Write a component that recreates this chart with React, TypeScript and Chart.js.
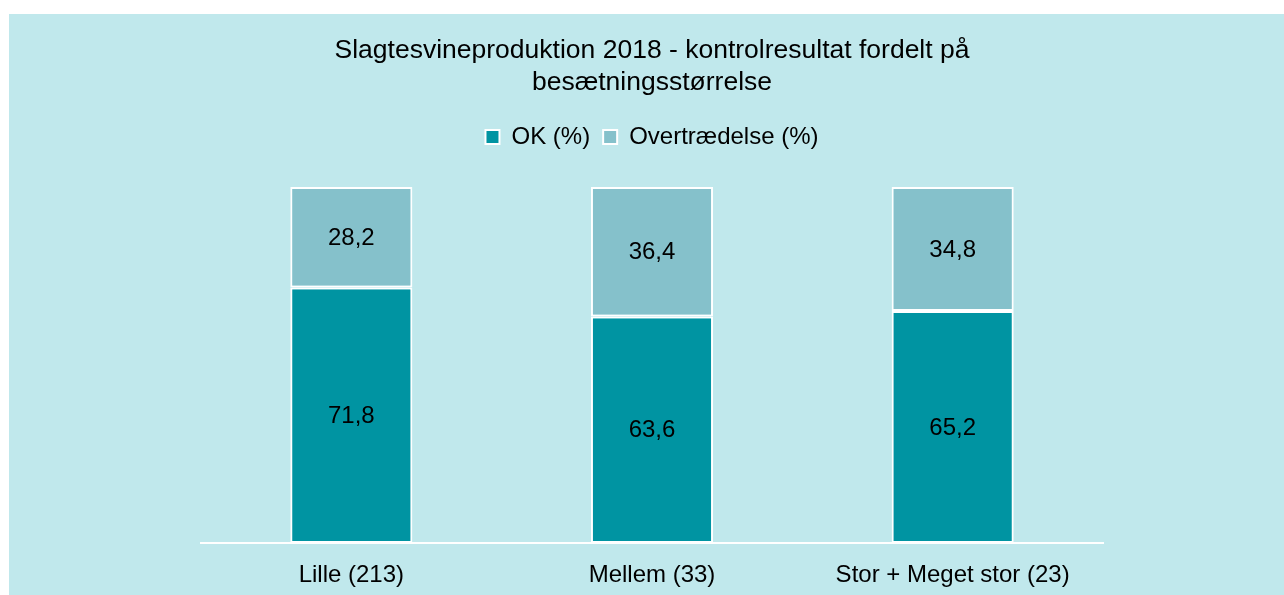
import React, { useEffect, useRef } from "react";
import { Chart, registerables } from "chart.js";

Chart.register(...registerables);

const categories = ["Lille (213)", "Mellem (33)", "Stor + Meget stor (23)"];
const okValues = [71.8, 63.6, 65.2];
const overValues = [28.2, 36.4, 34.8];
const seriesNames = ["OK (%)", "Overtrædelse (%)"];
const titleLines = ["Slagtesvineproduktion 2018 - kontrolresultat fordelt på", "besætningsstørrelse"];

const FONT = "'Liberation Sans', Arial, sans-serif";
const BG = "#C0E8EC";

const valueLabels = {
  id: "valueLabels",
  afterDatasetsDraw(chart: any) {
    const ctx = chart.ctx;
    ctx.save();
    ctx.font = `24px ${FONT}`;
    ctx.fillStyle = "#000";
    ctx.textAlign = "center";
    ctx.textBaseline = "middle";
    chart.data.datasets.forEach((ds: any, di: number) => {
      const meta = chart.getDatasetMeta(di);
      meta.data.forEach((el: any, i: number) => {
        const v = ds.data[i];
        const y = (el.y + el.base) / 2;
        ctx.fillText(v.toFixed(1).replace(".", ","), el.x, y + 1);
      });
    });
    ctx.restore();
  },
};

export default function App() {
  const ref = useRef<HTMLCanvasElement | null>(null);
  useEffect(() => {
    if (!ref.current) return;
    const chart = new Chart(ref.current, {
      type: "bar",
      data: {
        labels: categories,
        datasets: [
          {
            label: seriesNames[0],
            data: okValues,
            backgroundColor: "#0094A2",
            borderColor: "#FFFFFF",
            borderWidth: 2,
            borderSkipped: false,
            barPercentage: 0.406,
            categoryPercentage: 1,
          },
          {
            label: seriesNames[1],
            data: overValues,
            backgroundColor: "#85C1CB",
            borderColor: "#FFFFFF",
            borderWidth: 2,
            borderSkipped: false,
            barPercentage: 0.406,
            categoryPercentage: 1,
          },
        ],
      },
      options: {
        animation: false,
        responsive: false,
        maintainAspectRatio: false,
        layout: { padding: { left: 192, right: 181, top: 0, bottom: 0 } },
        plugins: {
          title: {
            display: true,
            text: titleLines,
            color: "#000",
            font: { family: FONT, size: 26.5, weight: "normal", lineHeight: 32 / 26.5 },
            padding: { top: 21, bottom: 13 },
          },
          subtitle: {
            display: true,
            text: " ",
            weight: 500,
            font: { size: 10, lineHeight: 1 },
            padding: { top: 0, bottom: 18 },
          } as any,
          legend: {
            display: true,
            position: "top",
            labels: {
              color: "#000",
              font: { family: FONT, size: 24 },
              boxWidth: 14,
              boxHeight: 14,
              padding: 13,
            },
          },
          tooltip: { enabled: false },
        },
        scales: {
          x: {
            stacked: true,
            grid: { display: false, drawTicks: false },
            border: { display: true, color: "#FFFFFF", width: 2 },
            ticks: { color: "#000", font: { family: FONT, size: 24 }, padding: 17.6 },
            afterFit: (scale: any) => {
              scale.height = 52;
            },
          },
          y: {
            stacked: true,
            display: false,
            min: 0,
            max: 100,
          },
        },
      },
      plugins: [valueLabels],
    });
    return () => chart.destroy();
  }, []);
  return (
    <div
      style={{
        position: "absolute",
        left: 9,
        top: 14,
        width: 1275,
        height: 581,
        background: BG,
      }}
    >
      <canvas ref={ref} width={1275} height={581} style={{ display: "block", width: 1275, height: 581 }} />
    </div>
  );
}
